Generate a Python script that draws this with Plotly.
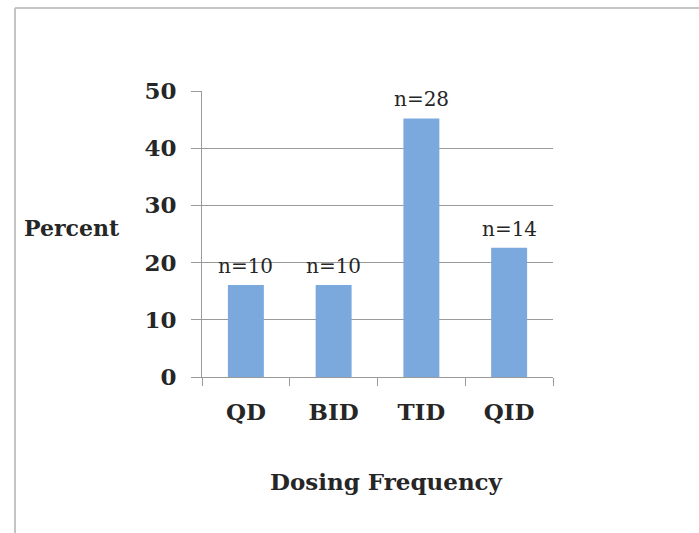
import plotly.graph_objects as go

# Dosing frequency breakdown
categories = ["QD", "BID", "TID", "QID"]
counts = [10, 10, 28, 14]
percent = [16.1, 16.1, 45.2, 22.6]
y_ticks = [0, 10, 20, 30, 40, 50]

W, H = 699, 533
L, R, T, B = 202, 146, 91, 156
pw, ph = W - L - R, H - T - B

def px_to_paper_x(px):
    return (px - L) / pw

def px_to_paper_y(py):
    return (H - B - py) / ph

text_color = "#262626"
grid_color = "#9a9a9a"

fig = go.Figure(
    go.Bar(
        x=categories,
        y=percent,
        width=0.41,
        marker=dict(color="#7ca9dd", line=dict(width=0)),
        hoverinfo="skip",
    )
)

# count labels above each bar
count_labels = [
    dict(
        x=cat, y=val, xref="x", yref="y",
        text=f"n={n}",
        xanchor="center", yanchor="bottom",
        yshift=5,
        showarrow=False,
        font=dict(family="DejaVu Serif", size=20, color=text_color),
    )
    for cat, val, n in zip(categories, percent, counts)
]

fig.update_layout(
    width=W,
    height=H,
    margin=dict(l=L, r=R, t=T, b=B, pad=0),
    paper_bgcolor="white",
    plot_bgcolor="white",
    showlegend=False,
    font=dict(family="DejaVu Serif", color=text_color),
    xaxis=dict(
        type="category",
        tickson="boundaries",
        ticks="outside",
        ticklen=8,
        tickcolor=grid_color,
        showline=True,
        linecolor=grid_color,
        linewidth=1,
        showgrid=False,
        tickfont=dict(family="DejaVu Serif", size=23, color=text_color, weight="bold"),
        ticklabelstandoff=14,
    ),
    yaxis=dict(
        range=[0, 50],
        tickvals=y_ticks,
        ticks="outside",
        ticklen=10,
        tickcolor=grid_color,
        showline=True,
        linecolor=grid_color,
        linewidth=1,
        showgrid=True,
        gridcolor=grid_color,
        gridwidth=1,
        zeroline=False,
        tickfont=dict(family="DejaVu Serif", size=23, color=text_color, weight="bold"),
        ticklabelstandoff=10,
    ),
    annotations=count_labels + [
        dict(
            text="Percent",
            x=px_to_paper_x(72), y=px_to_paper_y(228),
            xref="paper", yref="paper",
            xanchor="center", yanchor="middle",
            showarrow=False,
            font=dict(family="DejaVu Serif", size=22, color=text_color, weight="bold"),
        ),
        dict(
            text="Dosing Frequency",
            x=px_to_paper_x(386), y=px_to_paper_y(481),
            xref="paper", yref="paper",
            xanchor="center", yanchor="middle",
            showarrow=False,
            font=dict(family="DejaVu Serif", size=23, color=text_color, weight="bold"),
        ),
    ],
    shapes=[
        # outer frame: top and left edges
        dict(type="line", xref="paper", yref="paper",
             x0=px_to_paper_x(15), x1=px_to_paper_x(699),
             y0=px_to_paper_y(8), y1=px_to_paper_y(8),
             line=dict(color="#c4c4c4", width=2)),
        dict(type="line", xref="paper", yref="paper",
             x0=px_to_paper_x(15), x1=px_to_paper_x(15),
             y0=px_to_paper_y(8), y1=px_to_paper_y(533),
             line=dict(color="#c4c4c4", width=2)),
    ],
)

fig.write_html("out.html")
